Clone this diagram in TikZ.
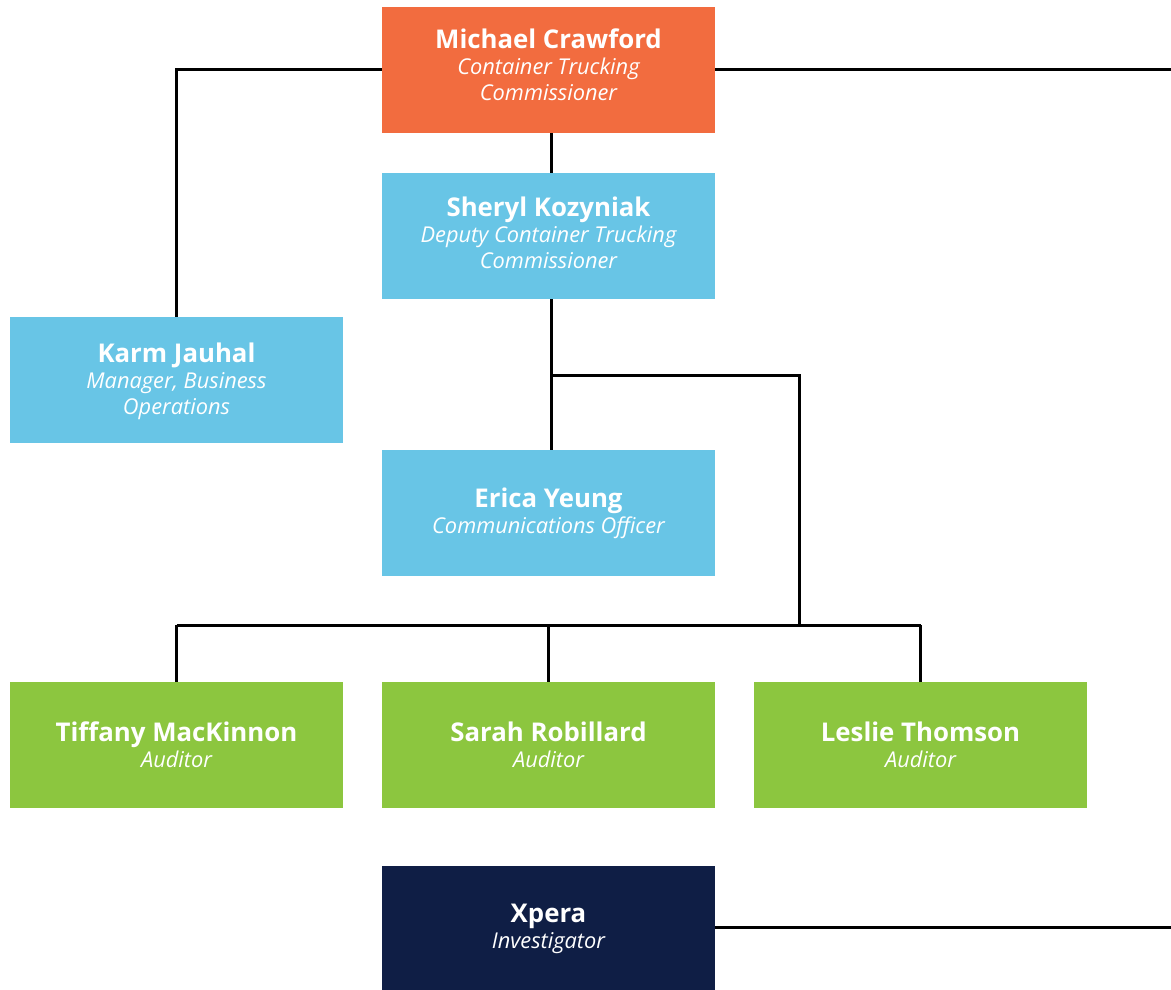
\documentclass[tikz,border=0pt]{standalone}
\usepackage{fontspec}
\setmainfont{Open Sans}
\definecolor{corange}{HTML}{F26C3F}
\definecolor{cblue}{HTML}{68C5E6}
\definecolor{cgreen}{HTML}{8CC63F}
\definecolor{cnavy}{HTML}{0F1E45}
\newcommand\nm[1]{{\fontsize{25.8}{28}\selectfont\upshape\bfseries #1}}
\begin{document}
\begin{tikzpicture}[x=1pt,y=1pt,
  box/.style={rectangle, minimum width=333pt, minimum height=126pt, inner sep=0pt,
    align=center, text=white, font=\fontsize{21.8}{26}\selectfont\itshape},
  conn/.style={line width=3pt, black, line join=miter}]
\useasboundingbox (0,0) rectangle (1171,-990);
\node[box, fill=corange] (M) at (548.5,-70) {\nm{Michael Crawford}\\Container Trucking\\Commissioner\\[-16pt]};
\node[box, fill=cblue] (S) at (548.5,-236) {\nm{Sheryl Kozyniak}\\Deputy Container Trucking\\Commissioner\\[-20pt]};
\node[box, fill=cblue] (K) at (176.5,-380) {\nm{Karm Jauhal}\\Manager, Business\\Operations\\[-24pt]};
\node[box, fill=cblue] (E) at (548.5,-513) {\nm{Erica Yeung}\\Communications Officer};
\node[box, fill=cgreen] (T) at (176.5,-745) {\nm{Tiffany MacKinnon}\\Auditor};
\node[box, fill=cgreen] (SR) at (548.5,-745) {\nm{Sarah Robillard}\\Auditor};
\node[box, fill=cgreen] (L) at (920.5,-745) {\nm{Leslie Thomson}\\Auditor};
\node[box, fill=cnavy] (X) at (548.5,-929) {\nm{Xpera}\\Investigator};
\coordinate (r1) at (1171,-70);
\coordinate (r2) at (1171,-927);
\coordinate (b1) at (551,-375);
\coordinate (b2) at (799,-625);
\draw[conn] (M.west) -| (K.north);
\draw[conn] (M.east) -- (r1);
\draw[conn] ([xshift=2.5pt]M.south) -- ([xshift=2.5pt]S.north);
\draw[conn] ([xshift=2.5pt]S.south) -- ([xshift=2.5pt]E.north);
\draw[conn] (b1) -| (b2);
\draw[conn] (T.north |- b2) -- (L.north |- b2);
\draw[conn] (T.north |- b2) -- (T.north);
\draw[conn] (SR.north |- b2) -- (SR.north);
\draw[conn] (L.north |- b2) -- (L.north);
\draw[conn] ([yshift=2pt]X.east) -- (r2);
\end{tikzpicture}
\end{document}
